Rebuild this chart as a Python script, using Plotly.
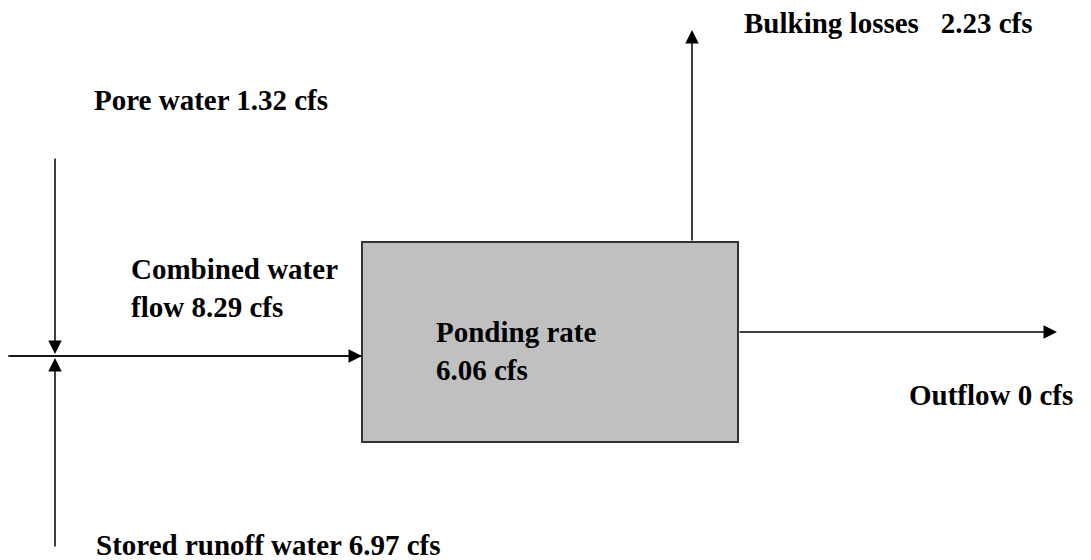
import plotly.graph_objects as go

# flow components (cfs)
flow_names = ["Bulking losses", "Pore water", "Combined water flow",
              "Ponding rate", "Outflow", "Stored runoff water"]
flow_values = [2.23, 1.32, 8.29, 6.06, 0, 6.97]
flow = dict(zip(flow_names, flow_values))

W, H = 1091, 560
PAD = 8  # page body margin, so axes map 1 unit -> 1 screen pixel
font = dict(family="Liberation Serif, Times New Roman, serif", size=29, color="black")
line_col = "#222222"

fig = go.Figure()

# ponding box
fig.add_shape(type="rect", x0=362, y0=242, x1=738, y1=442,
              fillcolor="#c0c0c0", line=dict(color="#333333", width=2))

fig.add_shape(type="line", x0=8, y0=356, x1=362, y1=356,
              line=dict(color=line_col, width=1.5))


def arrow(x0, y0, x1, y1):
    fig.add_annotation(x=x1, y=y1, ax=x0, ay=y0, xref="x", yref="y",
                       axref="x", ayref="y", text="", showarrow=True,
                       arrowhead=2, arrowsize=1.8, arrowwidth=1.5,
                       arrowcolor="black")


arrow(55, 157, 55, 354)   # pore water down
arrow(55, 548, 55, 358)   # stored runoff up
arrow(8, 356, 362, 356)   # combined into box
arrow(692, 242, 692, 30)  # bulking losses
arrow(738, 332, 1057, 332)  # outflow


def fmt(v):
    return f"{v:g}" if v == 0 else f"{v:.2f}"


labels = [
    (743, 23, f"Bulking losses   {fmt(flow['Bulking losses'])} cfs"),
    (93, 100, f"Pore water {fmt(flow['Pore water'])} cfs"),
    (130, 288, f"Combined water<br>flow {fmt(flow['Combined water flow'])} cfs"),
    (435, 351, f"Ponding rate<br>{fmt(flow['Ponding rate'])} cfs"),
    (908, 395, f"Outflow {fmt(flow['Outflow'])} cfs"),
    (95, 545, f"Stored runoff water {fmt(flow['Stored runoff water'])} cfs"),
]
for x, y, t in labels:
    fig.add_annotation(x=x, y=y, xref="x", yref="y", text=f"<b>{t}</b>",
                       showarrow=False, xanchor="left", yanchor="middle",
                       align="left", font=font, borderpad=0)

fig.update_xaxes(range=[PAD, W], visible=False, fixedrange=True)
fig.update_yaxes(range=[H, PAD], visible=False, fixedrange=True)
fig.update_layout(width=W - PAD, height=H - PAD, margin=dict(l=0, r=0, t=0, b=0),
                  plot_bgcolor="white", paper_bgcolor="white", showlegend=False)

fig.write_html("out.html")
